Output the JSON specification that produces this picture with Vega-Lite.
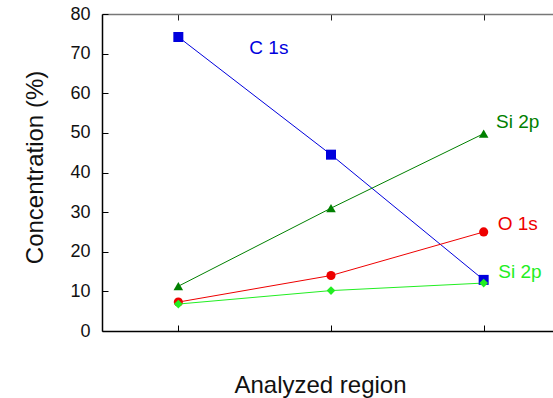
{
  "$schema": "https://vega.github.io/schema/vega-lite/v6.json",
  "autosize": "none",
  "width": 458,
  "height": 317,
  "padding": {"left": 102, "top": 14, "right": 0, "bottom": 67},
  "background": "white",
  "config": {
    "view": {"stroke": null},
    "font": "Liberation Sans",
    "axis": {"grid": false, "labelFont": "Liberation Sans", "titleFont": "Liberation Sans", "titleFontWeight": "normal"}
  },
  "datasets": {
    "pts": [
      {"region": 1, "series": "C 1s", "value": 74.2},
      {"region": 2, "series": "C 1s", "value": 44.5},
      {"region": 3, "series": "C 1s", "value": 12.9},
      {"region": 1, "series": "Si 2p (a)", "value": 11.3},
      {"region": 2, "series": "Si 2p (a)", "value": 31.0},
      {"region": 3, "series": "Si 2p (a)", "value": 49.8},
      {"region": 1, "series": "O 1s", "value": 7.3},
      {"region": 2, "series": "O 1s", "value": 14.0},
      {"region": 3, "series": "O 1s", "value": 25.0},
      {"region": 1, "series": "Si 2p (b)", "value": 6.8},
      {"region": 2, "series": "Si 2p (b)", "value": 10.2},
      {"region": 3, "series": "Si 2p (b)", "value": 12.1}
    ],
    "labels": [
      {"series": "C 1s", "text": "C 1s", "lx": 1.465, "ly": 69.9},
      {"series": "Si 2p (a)", "text": "Si 2p", "lx": 3.081, "ly": 51.2},
      {"series": "O 1s", "text": "O 1s", "lx": 3.092, "ly": 25.5},
      {"series": "Si 2p (b)", "text": "Si 2p", "lx": 3.096, "ly": 13.4}
    ]
  },
  "resolve": {"axis": {"x": "independent", "y": "independent"}},
  "layer": [
    {
      "data": {"name": "pts"},
      "mark": {"type": "line", "strokeWidth": 1},
      "encoding": {
        "x": {"field": "region", "type": "quantitative", "scale": {"domain": [0.5, 3.5], "nice": false, "zero": false},
          "axis": {"orient": "bottom", "values": [1, 2, 3], "labels": false, "tickSize": -6, "tickColor": "#000", "domainColor": "#000", "domainWidth": 1.5,
            "title": "Analyzed region", "titleFontSize": 24, "titleColor": "#111", "titleX": 218, "titleY": 61, "titleBaseline": "alphabetic", "titleAlign": "center"}},
        "y": {"field": "value", "type": "quantitative", "scale": {"domain": [0, 80], "nice": false},
          "axis": {"orient": "left", "values": [0, 10, 20, 30, 40, 50, 60, 70, 80], "tickSize": -6, "tickColor": "#000", "domainColor": "#000", "domainWidth": 1.5,
            "labelFontSize": 18, "labelColor": "#111", "labelPadding": 18,
            "title": "Concentration (%)", "titleFontSize": 24, "titleColor": "#111", "titleAngle": -90, "titleX": -67, "titleY": 153, "titleAlign": "center", "titleBaseline": "middle"}},
        "color": {"field": "series", "type": "nominal", "legend": null,
          "scale": {"domain": ["C 1s", "Si 2p (a)", "O 1s", "Si 2p (b)"], "range": ["#0000dd", "#008000", "#ee0000", "#22ee22"]}},
        "order": {"field": "region"}
      }
    },
    {
      "data": {"name": "pts"},
      "mark": {"type": "point", "filled": true, "opacity": 1, "strokeWidth": 0},
      "encoding": {
        "x": {"field": "region", "type": "quantitative", "axis": {"orient": "top", "values": [1, 2, 3], "labels": false, "tickSize": -6, "tickColor": "#222", "domainColor": "#777", "domainWidth": 1.5, "title": null}},
        "y": {"field": "value", "type": "quantitative", "axis": null},
        "color": {"field": "series", "type": "nominal", "legend": null},
        "shape": {"field": "series", "type": "nominal", "legend": null,
          "scale": {"domain": ["C 1s", "Si 2p (a)", "O 1s", "Si 2p (b)"], "range": ["square", "triangle-up", "circle", "diamond"]}},
        "size": {"field": "series", "type": "nominal", "legend": null,
          "scale": {"domain": ["C 1s", "Si 2p (a)", "O 1s", "Si 2p (b)"], "range": [100, 75, 75, 100]}}
      }
    },
    {
      "data": {"name": "labels"},
      "mark": {"type": "text", "align": "left", "baseline": "alphabetic", "fontSize": 19, "font": "Liberation Sans"},
      "encoding": {
        "x": {"field": "lx", "type": "quantitative", "axis": null},
        "y": {"field": "ly", "type": "quantitative", "axis": null},
        "text": {"field": "text"},
        "color": {"field": "series", "type": "nominal", "legend": null}
      }
    }
  ]
}
